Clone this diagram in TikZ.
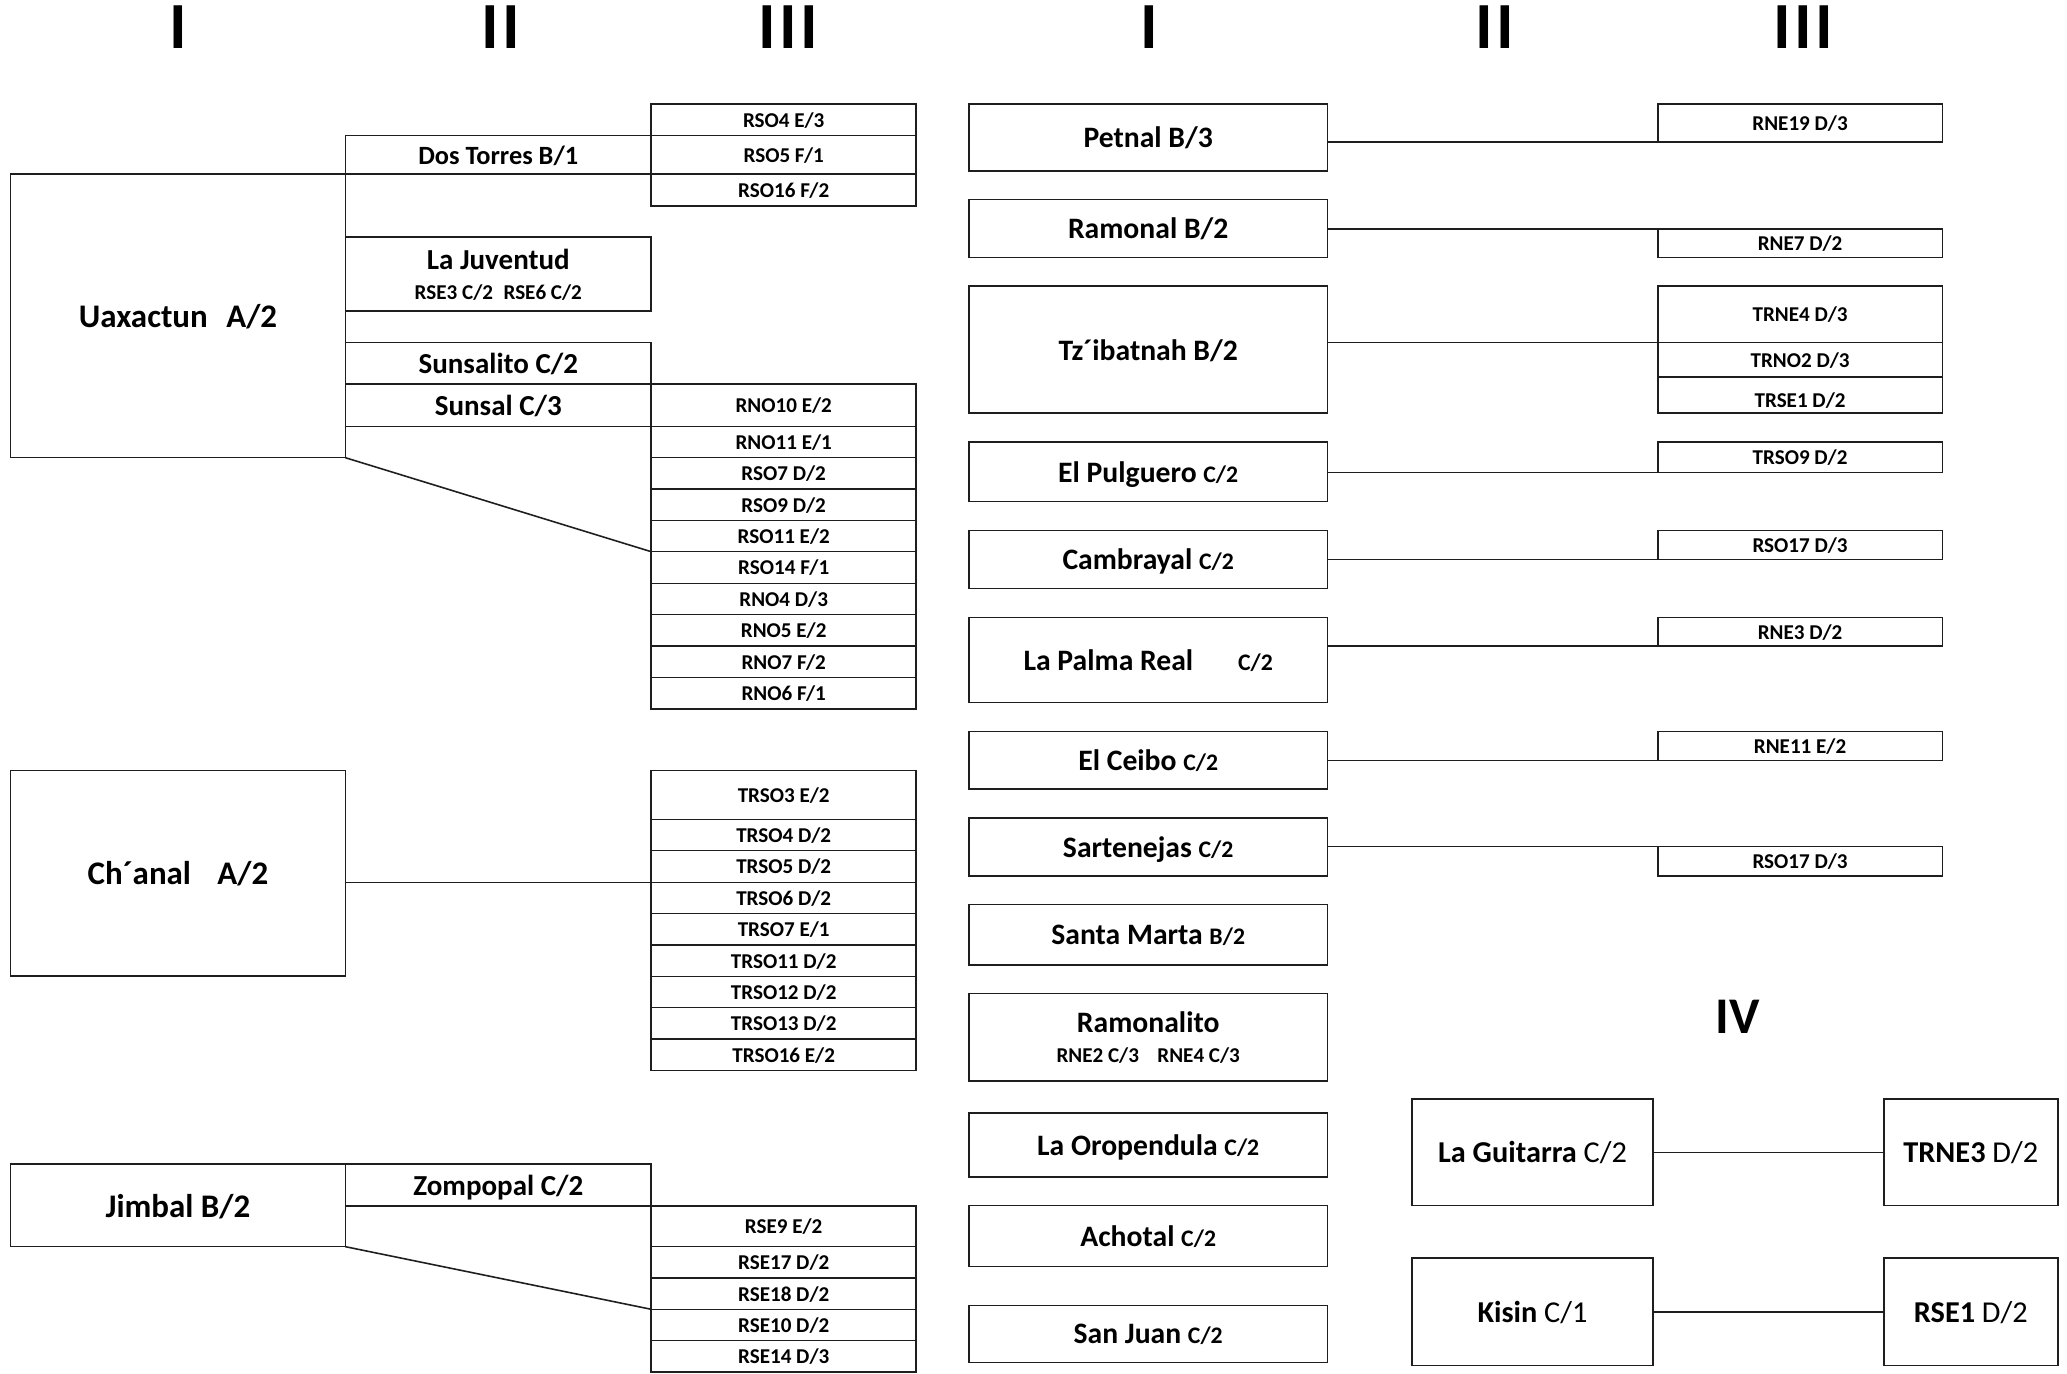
\documentclass[tikz,border=0pt]{standalone}
\usepackage{fontspec}
\setmainfont{Carlito}
\definecolor{lc}{RGB}{30,30,30}
\newcommand{\mybox}[7][]{%
  \pgfmathsetmacro\bxw{#5-#3}\pgfmathsetmacro\bxh{#6-#4}%
  \node[bx,minimum width=\bxw pt,minimum height=\bxh pt,#1] (#2) at ({(#3+#5)/2},{(#4+#6)/2}) {#7};}
\newcommand{\smtx}[1]{{\fontsize{18}{18}\selectfont #1}}
\begin{document}
\begin{tikzpicture}[x=1pt,y=-1pt,
  bx/.style={draw=lc, line width=1.2pt, inner sep=0pt, outer sep=0pt, align=center, text=black, text depth=0pt},
  ln/.style={draw=lc, line width=1.2pt},
  fA/.style={font=\fontsize{25}{30}\selectfont\bfseries},
  fB/.style={font=\fontsize{22}{26}\selectfont\bfseries},
  fR/.style={font=\fontsize{22.5}{26}\selectfont\bfseries},
  fC/.style={font=\fontsize{16}{19}\selectfont\bfseries},
  fH/.style={font=\fontsize{50}{55}\selectfont\bfseries, anchor=base, inner sep=0pt},
  fG/.style={font=\fontsize{23}{26}\selectfont}
]
\useasboundingbox (0,0) rectangle (1568,1042);
% headers
\node[fH] (h1) at (135,37) {I};
\node[fH] (h2) at (380,37) {I\kern2.6pt I};
\node[fH] (h3) at (598,37) {I\kern2.6pt I\kern2.6pt I};
\node[fH] (h4) at (872,37) {I};
\node[fH] (h5) at (1134,37) {I\kern2.6pt I};
\node[fH] (h6) at (1368,37) {I\kern2.6pt I\kern2.6pt I};
\node[fH, font=\fontsize{39}{42}\selectfont\bfseries] (h7) at (1318,784) {IV};

% ---------- left: Uaxactun ----------
\mybox[fA]{uax}{8}{132.2}{262}{347.2}{Uaxactun\hspace{14pt}A/2}
\mybox[fB,font=\fontsize{20}{24}\selectfont\bfseries]{dos}{262}{102.9}{494}{132.2}{Dos Torres B/1}
\mybox[fB]{juv}{262}{180}{494}{235.9}{La Juventud\\[-3pt]{\fontsize{16}{19}\selectfont RSE3 C/2\hspace{8pt}RSE6 C/2}}
\mybox[fB]{sunsalito}{262}{259.7}{494}{291.5}{Sunsalito C/2}
\mybox[fB]{sunsal}{262}{291.5}{494}{323.6}{Sunsal C/3}
\mybox[fC]{rso4}{494}{78.9}{695}{102.9}{RSO4 E/3}
\mybox[fC]{rso5}{494}{102.9}{695}{132.2}{RSO5 F/1}
\mybox[fC]{rso16}{494}{132.2}{695}{156.3}{RSO16 F/2}
\mybox[fC]{rno10}{494}{291.5}{695}{323.6}{RNO10 E/2}
\mybox[fC]{rno11}{494}{323.6}{695}{347.2}{RNO11 E/1}
\mybox[fC]{rso7}{494}{347.2}{695}{371}{RSO7 D/2}
\mybox[fC]{rso9}{494}{371}{695}{394.7}{RSO9 D/2}
\mybox[fC]{rso11}{494}{394.7}{695}{418.5}{RSO11 E/2}
\mybox[fC]{rso14}{494}{418.5}{695}{442.5}{RSO14 F/1}
\mybox[fC]{rno4}{494}{442.5}{695}{466}{RNO4 D/3}
\mybox[fC]{rno5}{494}{466}{695}{490}{RNO5 E/2}
\mybox[fC]{rno7}{494}{490}{695}{513.8}{RNO7 F/2}
\mybox[fC]{rno6}{494}{513.8}{695}{537.8}{RNO6 F/1}
\draw[ln] (uax.south east) -- (rso14.north west);

% ---------- Ch'anal ----------
\mybox[fA]{chanal}{8}{584.6}{262}{740.4}{Ch´anal\hspace{20pt}A/2}
\mybox[fC]{trso3}{494}{584.6}{695}{621.5}{TRSO3 E/2}
\mybox[fC]{trso4}{494}{621.5}{695}{645.3}{TRSO4 D/2}
\mybox[fC]{trso5}{494}{645.3}{695}{669.3}{TRSO5 D/2}
\mybox[fC]{trso6}{494}{669.3}{695}{693}{TRSO6 D/2}
\mybox[fC]{trso7}{494}{693}{695}{716.8}{TRSO7 E/1}
\mybox[fC]{trso11}{494}{716.8}{695}{740.6}{TRSO11 D/2}
\mybox[fC]{trso12}{494}{740.6}{695}{764.4}{TRSO12 D/2}
\mybox[fC]{trso13}{494}{764.4}{695}{788.1}{TRSO13 D/2}
\mybox[fC]{trso16}{494}{788.1}{695}{811.9}{TRSO16 E/2}
\draw[ln] (chanal.east |- trso6.north west) -- (trso6.north west);

% ---------- Jimbal ----------
\mybox[fA]{jimbal}{8}{883.2}{262}{945.7}{Jimbal B/2}
\mybox[fB]{zomp}{262}{883.2}{494}{914.8}{Zompopal C/2}
\mybox[fC]{rse9}{494}{914.8}{695}{945.7}{RSE9 E/2}
\mybox[fC]{rse17}{494}{945.7}{695}{969.4}{RSE17 D/2}
\mybox[fC]{rse18}{494}{969.4}{695}{993.2}{RSE18 D/2}
\mybox[fC]{rse10}{494}{993.2}{695}{1017}{RSE10 D/2}
\mybox[fC]{rse14}{494}{1017}{695}{1040.7}{RSE14 D/3}
\draw[ln] (jimbal.south east) -- (rse10.north west);

% ---------- right side ----------
\mybox[fR]{petnal}{735}{78.9}{1007}{129.7}{Petnal B/3}
\mybox[fC]{rne19}{1257.5}{78.9}{1473.5}{107.5}{RNE19 D/3}
\draw[ln] (petnal.east |- rne19.south west) -- (rne19.south west);

\mybox[fR]{ramonal}{735}{151.2}{1007}{195.2}{Ramonal B/2}
\mybox[fC]{rne7}{1257.5}{173.5}{1473.5}{195.2}{RNE7 D/2}
\draw[ln] (ramonal.east |- rne7.north west) -- (rne7.north west);

\mybox[fR]{tz}{735}{217}{1007}{313.5}{Tz´ibatnah B/2}
\mybox[fC]{trne4}{1257.5}{217}{1473.5}{259.7}{TRNE4 D/3}
\mybox[fC]{trno2}{1257.5}{259.7}{1473.5}{286.2}{TRNO2 D/3}
\mybox[fC]{trse1}{1257.5}{286.2}{1473.5}{313.5}{\raisebox{-7pt}{TRSE1 D/2}}
\draw[ln] (tz.east |- trne4.south west) -- (trne4.south west);

\mybox[fR]{pulg}{735}{335.5}{1007}{380.3}{El Pulguero \smtx{C/2}}
\mybox[fC]{trso9}{1257.5}{335.5}{1473.5}{358.3}{TRSO9 D/2}
\draw[ln] (pulg.east |- trso9.south west) -- (trso9.south west);

\mybox[fR]{camb}{735}{402.3}{1007}{446.5}{Cambrayal \smtx{C/2}}
\mybox[fC]{rso17a}{1257.5}{402.3}{1473.5}{424.5}{RSO17 D/3}
\draw[ln] (camb.east |- rso17a.south west) -- (rso17a.south west);

\mybox[fR]{palma}{735}{468.3}{1007}{533}{La Palma Real\hspace{34pt}\smtx{C/2}}
\mybox[fC]{rne3}{1257.5}{468.3}{1473.5}{490}{RNE3 D/2}
\draw[ln] (palma.east |- rne3.south west) -- (rne3.south west);

\mybox[fR]{ceibo}{735}{555}{1007}{598.7}{El Ceibo \smtx{C/2}}
\mybox[fC]{rne11}{1257.5}{555}{1473.5}{576.8}{RNE11 E/2}
\draw[ln] (ceibo.east |- rne11.south west) -- (rne11.south west);

\mybox[fR]{sarten}{735}{620.5}{1007}{664.5}{Sartenejas \smtx{C/2}}
\mybox[fC]{rso17b}{1257.5}{642.2}{1473.5}{664.5}{RSO17 D/3}
\draw[ln] (sarten.east |- rso17b.north west) -- (rso17b.north west);

\mybox[fR]{santa}{735}{686.2}{1007}{732}{Santa Marta \smtx{B/2}}
\mybox[fR]{ramonalito}{735}{753.8}{1007}{819.8}{Ramonalito\\[-3pt]{\fontsize{16}{19}\selectfont RNE2 C/3\hspace{14pt}RNE4 C/3}}
\mybox[fR]{orop}{735}{844.5}{1007}{893}{La Oropendula \smtx{C/2}}
\mybox[fR]{achotal}{735}{914.6}{1007}{960.8}{Achotal \smtx{C/2}}
\mybox[fR]{sanjuan}{735}{990.2}{1007}{1033.7}{San Juan \smtx{C/2}}

% ---------- IV ----------
\mybox[fG]{guitarra}{1071}{833.6}{1254}{914.6}{\textbf{La Guitarra} C/2}
\mybox[fG]{trne3}{1429}{833.6}{1561}{914.6}{\textbf{TRNE3} D/2}
\mybox[fG]{kisin}{1071}{954.5}{1254}{1035.7}{\textbf{Kisin} C/1}
\mybox[fG]{rse1}{1429}{954.5}{1561}{1035.7}{\textbf{RSE1} D/2}
\draw[ln] (guitarra) -- (trne3);
\draw[ln] (kisin) -- (rse1);
\end{tikzpicture}
\end{document}
